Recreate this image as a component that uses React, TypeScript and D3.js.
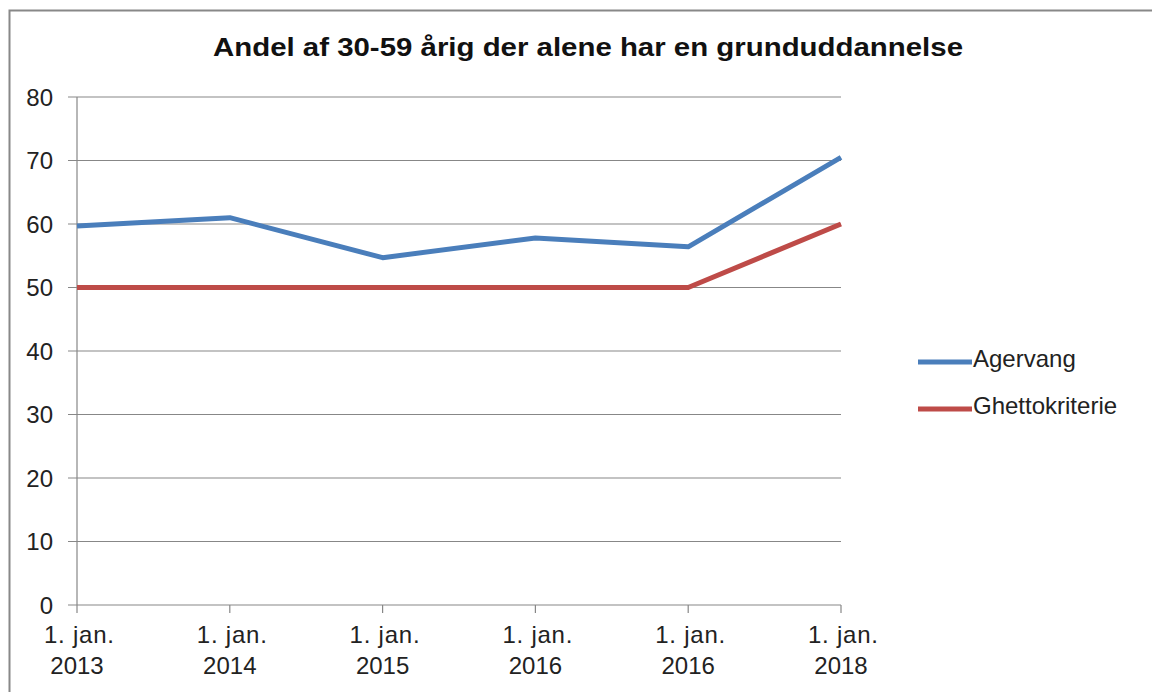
import React, { useEffect, useRef } from 'react';
import * as d3 from 'd3';

const dates = ["1. jan.|2013", "1. jan.|2014", "1. jan.|2015", "1. jan.|2016", "1. jan.|2016", "1. jan.|2018"];
const agervang = [59.7, 61.0, 54.7, 57.8, 56.4, 70.5];
const ghetto = [50, 50, 50, 50, 50, 60];
const yTicks = [0, 10, 20, 30, 40, 50, 60, 70, 80];
const seriesNames = ["Agervang", "Ghettokriterie"];

const App = () => {
    const ref = useRef<SVGSVGElement>(null);

    useEffect(() => {
        const svg = d3.select(ref.current);
        svg.selectAll("*").remove();

        const font = "Arial, 'Liberation Sans', sans-serif";

        // frame
        svg.append("rect")
            .attr("x", 9.5).attr("y", 10.5)
            .attr("width", 1160).attr("height", 700)
            .attr("fill", "#fff")
            .attr("stroke", "#888").attr("stroke-width", 2);

        svg.append("text")
            .attr("x", 213).attr("y", 56)
            .attr("textLength", 750)
            .attr("lengthAdjust", "spacingAndGlyphs")
            .style("font-family", font)
            .style("font-size", "26px")
            .style("font-weight", "bold")
            .attr("fill", "#111")
            .text("Andel af 30-59 årig der alene har en grunduddannelse");

        const x = d3.scalePoint<number>()
            .domain(d3.range(dates.length))
            .range([77, 841]);
        const y = d3.scaleLinear().domain([0, 80]).range([605, 97]);

        const g = svg.append("g");

        // gridlines
        g.selectAll("line.grid")
            .data(yTicks)
            .enter().append("line")
            .attr("x1", 68).attr("x2", 841)
            .attr("y1", d => y(d)).attr("y2", d => y(d))
            .attr("stroke", "#878787").attr("stroke-width", 1.2);

        g.selectAll("text.ytick")
            .data(yTicks)
            .enter().append("text")
            .attr("x", 53).attr("y", d => y(d) + 8.5)
            .attr("text-anchor", "end")
            .style("font-family", font).style("font-size", "24px")
            .attr("fill", "#222")
            .text(d => d);

        // axes
        g.append("line")
            .attr("x1", 77).attr("x2", 77).attr("y1", 97).attr("y2", 605)
            .attr("stroke", "#878787").attr("stroke-width", 1.2);

        g.selectAll("line.xtick")
            .data(d3.range(dates.length))
            .enter().append("line")
            .attr("x1", d => x(d)!).attr("x2", d => x(d)!)
            .attr("y1", 605).attr("y2", 613)
            .attr("stroke", "#878787").attr("stroke-width", 1.2);

        const xl = g.selectAll("text.xlabel")
            .data(dates)
            .enter().append("text")
            .attr("text-anchor", "middle")
            .style("font-family", font).style("font-size", "24px")
            .attr("fill", "#222");
        xl.append("tspan")
            .attr("x", (d, i) => x(i)! + 2).attr("y", 643)
            .attr("textLength", 70)
            .attr("lengthAdjust", "spacing")
            .text(d => d.split("|")[0]);
        xl.append("tspan")
            .attr("x", (d, i) => x(i)!).attr("y", 674)
            .text(d => d.split("|")[1]);

        const line = d3.line<number>()
            .x((d, i) => x(i)!)
            .y(d => y(d));

        const colors = ["#4a7ebb", "#be4b48"];
        [agervang, ghetto].forEach((s, k) => {
            g.append("path")
                .datum(s)
                .attr("d", line)
                .attr("fill", "none")
                .attr("stroke", colors[k])
                .attr("stroke-width", 5)
                .attr("stroke-linejoin", "round");
        });

        const legend = svg.append("g")
            .selectAll("g")
            .data(seriesNames)
            .enter().append("g")
            .attr("transform", (d, i) => `translate(918, ${362 + i * 47})`);
        legend.append("line")
            .attr("x1", 0).attr("x2", 54)
            .attr("stroke", (d, i) => colors[i])
            .attr("stroke-width", 5);
        legend.append("text")
            .attr("x", 55).attr("y", 5)
            .style("font-family", font).style("font-size", "24px")
            .attr("fill", "#222")
            .text(d => d);
    }, []);

    return (
        <svg ref={ref} width="1152" height="692" style={{ position: "absolute", left: 0, top: 0 }}></svg>
    );
};

export default App;
